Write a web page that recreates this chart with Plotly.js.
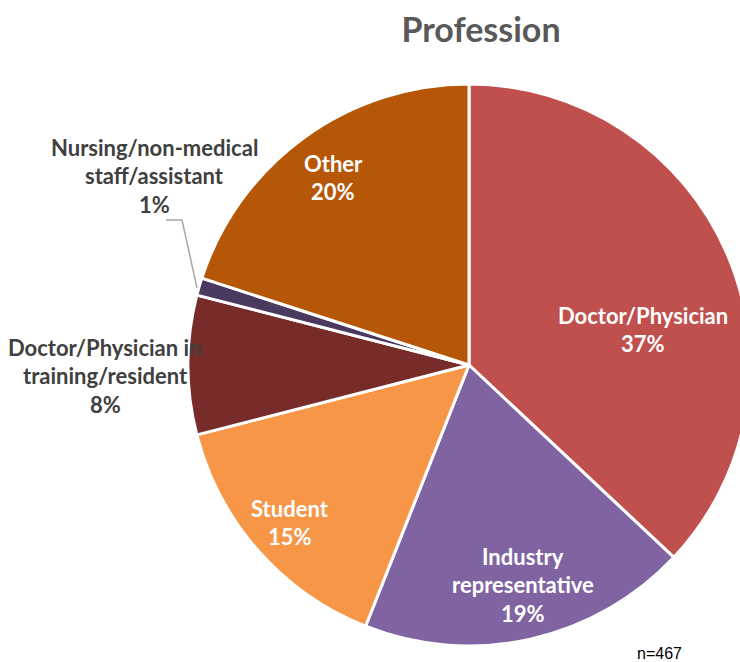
<!DOCTYPE html>
<html>
<head>
<meta charset="utf-8">
<script src="https://cdn.plot.ly/plotly-3.0.1.min.js"></script>
<style>
html,body{margin:0;padding:0;overflow:hidden;background:#fff;width:740px;height:662px;}
#chart{width:760px;height:662px;}
</style>
</head>
<body>
<div id="chart"></div>
<script>
// Data
const categories = ["Doctor/Physician", "Industry representative", "Student",
  "Doctor/Physician in training/resident", "Nursing/non-medical staff/assistant", "Other"];
const labelLines = [["Doctor/Physician"], ["Industry", "representative"], ["Student"],
  ["Doctor/Physician in", "training/resident"], ["Nursing/non-medical", "staff/assistant"], ["Other"]];
const percentValues = [37, 19, 15, 8, 1, 20];
const sampleSize = 467;
const chartTitle = "Profession";

// Styles / layout
const colors = ["#C0504D", "#8064A2", "#F79646", "#772C2A", "#4B3A60", "#B65708"];
const insideMask = [true, true, true, false, false, true];
const labelAnchor = [[643, 315], [523, 556], [290, 508], [105, 347], [154, 147], [333, 163]];
const lineGap = 28.7;
const FONT = "Lato, Open Sans, sans-serif";
const LABEL_SIZE = 22;

const W = 760, H = 662;
const px = x => x / W;
const py = y => 1 - y / H;

const trace = {
  type: "pie",
  labels: categories,
  values: percentValues,
  textinfo: "none",
  sort: false,
  direction: "clockwise",
  rotation: 0,
  marker: {colors: colors, line: {color: "#FFFFFF", width: 3}},
  domain: {x: [px(188), px(750)], y: [py(646), py(84)]},
  hoverinfo: "label+percent",
  showlegend: false
};

const annotations = [];
categories.forEach((c, i) => {
  const lines = labelLines[i].concat([percentValues[i] + "%"]);
  lines.forEach((t, j) => {
    annotations.push({
      xref: "paper", yref: "paper",
      x: px(labelAnchor[i][0]), y: py(labelAnchor[i][1] + j * lineGap),
      xanchor: "center", yanchor: "middle",
      text: t, showarrow: false,
      font: {family: FONT, size: LABEL_SIZE, weight: "bold",
             color: insideMask[i] ? "#FFFFFF" : "#404040"}
    });
  });
});
annotations.push({
  xref: "paper", yref: "paper",
  x: px(659), y: py(653), xanchor: "center", yanchor: "middle",
  text: "n=" + sampleSize, showarrow: false,
  font: {family: "Liberation Sans, Arial, sans-serif", size: 16, color: "#000000"}
});

const layout = {
  width: W, height: H,
  margin: {l: 0, r: 0, t: 0, b: 0},
  paper_bgcolor: "#FFFFFF",
  title: {
    text: "<b>" + chartTitle + "</b>",
    x: px(481), xanchor: "center", xref: "paper",
    y: py(30), yanchor: "middle", yref: "paper",
    font: {family: FONT, size: 34, color: "#595959"}
  },
  annotations: annotations,
  shapes: [{
    type: "path", xref: "paper", yref: "paper",
    path: "M " + px(166) + "," + py(220) + " L " + px(182) + "," + py(220) + " L " + px(197) + "," + py(288),
    line: {color: "#A6A6A6", width: 1.5}
  }]
};

Plotly.newPlot("chart", [trace], layout, {displayModeBar: false, staticPlot: true});
</script>
</body>
</html>
